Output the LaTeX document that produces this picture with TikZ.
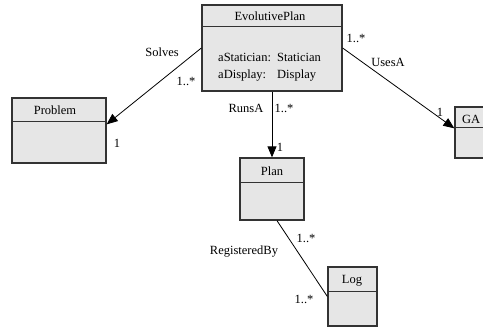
\documentclass[tikz,border=0pt]{standalone}
\usepackage{fontspec}
\setmainfont{Liberation Serif}
\usetikzlibrary{calc,arrows.meta}
\definecolor{boxfill}{HTML}{E6E6E6}
\definecolor{boxline}{HTML}{333333}
\tikzset{
  umlbox/.style={draw=boxline, fill=boxfill, line width=1.3pt, inner sep=0pt},
  sepline/.style={draw=boxline, line width=1.1pt},
  lbl/.style={inner sep=0pt, font=\fontsize{12.5}{14}\selectfont},
  conn/.style={draw=black, line width=0.8pt},
  arr/.style={conn, -{Triangle[length=11pt,width=9pt]}},
}
\begin{document}
\begin{tikzpicture}[x=1pt,y=-1pt]
\useasboundingbox (0,0) rectangle (483,327);
\clip (0,0) rectangle (483,327);
% boxes
\node[umlbox, minimum width=140pt, minimum height=86pt] (ep) at (272,48) {};
\draw[sepline] ($(ep.north west)+(0,22)$) -- ($(ep.north east)+(0,22)$);
\node[lbl] (eptitle) at (270,16) {EvolutivePlan};
\node[lbl, anchor=west] (a1) at (218,57) {aStatician:};
\node[lbl, anchor=west] (a1t) at (277,57) {Statician};
\node[lbl, anchor=west] (a2) at (218,76) {aDisplay:};
\node[lbl, anchor=west] (a2t) at (277,76) {Display};

\node[umlbox, minimum width=94pt, minimum height=65pt] (pb) at (59,130.5) {};
\draw[sepline] ($(pb.north west)+(0,24)$) -- ($(pb.north east)+(0,24)$);
\node[lbl] (pbtitle) at (55,110) {Problem};

\node[umlbox, minimum width=64pt, minimum height=62pt] (pl) at (272,189) {};
\draw[sepline] ($(pl.north west)+(0,25)$) -- ($(pl.north east)+(0,25)$);
\node[lbl] (pltitle) at (272,171) {Plan};

\node[umlbox, minimum width=49pt, minimum height=59pt] (lg) at (352.5,296.5) {};
\draw[sepline] ($(lg.north west)+(0,25)$) -- ($(lg.north east)+(0,25)$);
\node[lbl] (lgtitle) at (352,281) {Log};

\node[umlbox, minimum width=60pt, minimum height=51pt] (ga) at (485,132.5) {};
\draw[sepline] ($(ga.north west)+(0,21)$) -- ($(ga.north east)+(0,21)$);
\node[lbl, anchor=west] (gatitle) at (462,119) {GA};

% connectors
\coordinate (pbend) at ($(pb.north east)+(0,27)$);
\draw[arr] (ep.west) -- (pbend);
\coordinate (gaend) at ($(ga.north west)+(0,22)$);
\draw[arr] (ep.east) -- (gaend);
\draw[arr] (ep.south) -- (pl.north);
\coordinate (plstart) at ($(pl.south)+(5,0)$);
\draw[conn] (plstart) -- (lg.west);

% labels
\node[lbl] (l1) at (162,52) {Solves};
\node[lbl] (l2) at (186,81) {1..*};
\node[lbl] (l3) at (117,143) {1};
\node[lbl] (l4) at (356,38) {1..*};
\node[lbl] (l5) at (388,62) {UsesA};
\node[lbl] (l6) at (440,112) {1};
\node[lbl] (l7) at (246,108) {RunsA};
\node[lbl] (l8) at (284,108) {1..*};
\node[lbl] (l9) at (280,147) {1};
\node[lbl] (l10) at (244,252) {RegisteredBy};
\node[lbl] (l11) at (306,238) {1..*};
\node[lbl] (l12) at (304,299) {1..*};
\end{tikzpicture}
\end{document}
